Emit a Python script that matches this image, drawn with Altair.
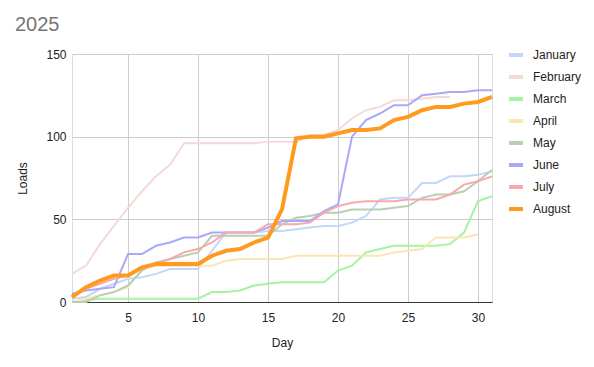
import altair as alt
import pandas as pd

months = ["January", "February", "March", "April", "May", "June", "July", "August"]
colors = ["#c3d7fb", "#f6d9d7", "#a3f3a3", "#fbe6b3", "#b8cfb4", "#a9a9f9", "#f8a9a9", "#ff9a1f"]

jan = [2, 3, 8, 11, 14, 15, 17, 20, 20, 20, 31, 42, 42, 42, 43, 43, 44, 45, 46, 46, 48, 52, 62, 63, 63, 72, 72, 76, 76, 77, 79]
feb = [17, 22, 35, 46, 57, 67, 76, 83, 96, 96, 96, 96, 96, 96, 97, 97, 97, 101, 101, 104, 111, 116, 118, 122, 122, 123, 124, 124]
mar = [0, 1, 2, 2, 2, 2, 2, 2, 2, 2, 6, 6, 7, 10, 11, 12, 12, 12, 12, 19, 22, 30, 32, 34, 34, 34, 34, 35, 42, 61, 64]
apr = [0, 2, 4, 6, 9, 20, 22, 22, 22, 22, 22, 25, 26, 26, 26, 26, 28, 28, 28, 28, 28, 28, 28, 30, 31, 32, 39, 39, 39, 41]
may = [0, 0, 4, 6, 10, 19, 24, 26, 28, 30, 40, 40, 40, 40, 40, 47, 51, 52, 54, 54, 56, 56, 56, 57, 58, 63, 65, 65, 67, 73, 80]
jun = [5, 7, 8, 9, 29, 29, 34, 36, 39, 39, 42, 42, 42, 42, 45, 49, 49, 49, 55, 59, 100, 110, 114, 119, 119, 125, 126, 127, 127, 128, 128]
jul = [3, 8, 11, 14, 16, 20, 23, 26, 30, 32, 36, 42, 42, 42, 47, 47, 47, 48, 54, 58, 60, 61, 61, 61, 62, 62, 62, 65, 71, 73, 76]
aug = [3, 9, 13, 16, 16, 21, 23, 23, 23, 23, 28, 31, 32, 36, 39, 56, 99, 100, 100, 102, 104, 104, 105, 110, 112, 116, 118, 118, 120, 121, 124]

series = [jan, feb, mar, apr, may, jun, jul, aug]
rows = []
for m, vals in zip(months, series):
    for i, v in enumerate(vals):
        rows.append({"Month": m, "Day": i + 1, "Loads": v})
df = pd.DataFrame(rows)

font = "Liberation Sans"

color = alt.Color(
    "Month:N",
    scale=alt.Scale(domain=months, range=colors),
    sort=months,
    legend=alt.Legend(
        title=None,
        orient="none",
        legendX=435,
        legendY=-8,
        symbolType="stroke",
        symbolSize=196,
        symbolStrokeWidth=4,
        labelFontSize=12,
        labelFont=font,
        labelColor="#222222",
        labelOffset=8,
        rowPadding=5,
    ),
)

x = alt.X(
    "Day:Q",
    scale=alt.Scale(domain=[1, 31], nice=False, zero=False),
    axis=alt.Axis(
        values=[5, 10, 15, 20, 25, 30],
        title="Day",
        grid=True,
        gridColor="#cccccc",
        ticks=False,
        domain=True,
        domainColor="#333333",
        domainWidth=1,
        labelPadding=10,
        titlePadding=14,
        labelFontSize=12,
        titleFontSize=12,
        titleFontWeight="normal",
        labelColor="#222222",
        titleColor="#222222",
        labelFont=font,
        titleFont=font,
    ),
)
y = alt.Y(
    "Loads:Q",
    scale=alt.Scale(domain=[0, 150], nice=False),
    axis=alt.Axis(
        values=[0, 50, 100, 150],
        title="Loads",
        grid=True,
        gridColor="#cccccc",
        ticks=False,
        domain=False,
        labelPadding=6,
        titlePadding=16,
        labelFontSize=12,
        titleFontSize=12,
        titleFontWeight="normal",
        labelColor="#222222",
        titleColor="#222222",
        labelFont=font,
        titleFont=font,
    ),
)

base = alt.Chart(df)
thin = base.transform_filter(alt.datum.Month != "August").mark_line(strokeWidth=2).encode(
    x=x, y=y, color=color, order=alt.Order("Day:Q"), detail="Month:N"
)
thick = base.transform_filter(alt.datum.Month == "August").mark_line(strokeWidth=4).encode(
    x=x, y=y, color=color, order=alt.Order("Day:Q")
)

chart = (
    alt.layer(thin, thick)
    .properties(
        width=420,
        height=248,
        title=alt.TitleParams(
            "2025",
            anchor="start",
            frame="group",
            dx=-57,
            fontSize=20,
            fontWeight="normal",
            color="#757575",
            font=font,
            offset=11,
        ),
        autosize=alt.AutoSizeParams(type="none"),
        padding={"left": 64, "top": 46, "right": 94, "bottom": 57},
    )
    .configure_view(stroke=None)
    .configure(background="white")
)

chart.save("out.html", embed_options={"renderer": "svg", "actions": False})
